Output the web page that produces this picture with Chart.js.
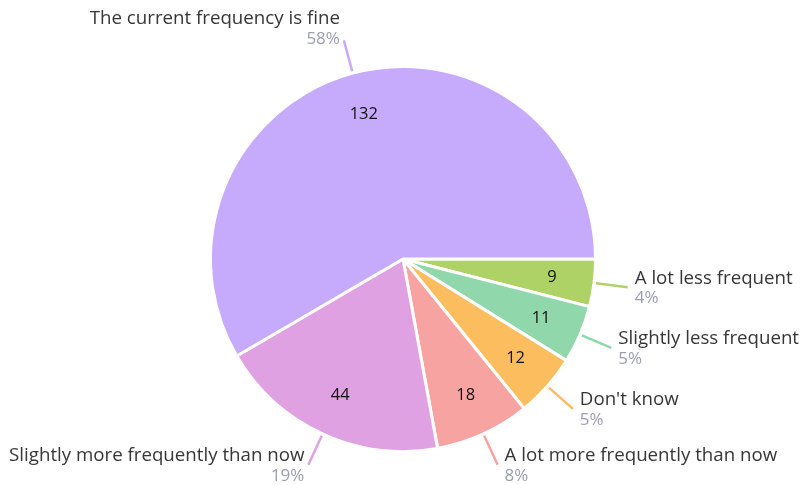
<!DOCTYPE html>
<html>
<head>
<meta charset="utf-8">
<script src="https://cdn.jsdelivr.net/npm/chart.js@4/dist/chart.umd.min.js"></script>
<style>
    html, body { margin: 0; padding: 0; background: #fff; }
    #pieChart { display: block; }
</style>
</head>
<body>
<canvas id="pieChart" width="800" height="485"></canvas>
<script>
// answers, clockwise from 3 o'clock
const answers = ['A lot less frequent', 'Slightly less frequent', "Don't know",
    'A lot more frequently than now', 'Slightly more frequently than now', 'The current frequency is fine'];
const counts = [9, 11, 12, 18, 44, 132];
const percents = ['4%', '5%', '5%', '8%', '19%', '58%'];
const colors = ['#aed266', '#90d7ab', '#fcbd5e', '#f7a3a2', '#dfa1e1', '#c6aafb'];

const fontFamily = '"Open Sans", Lato, sans-serif';

// подписи снаружи с линиями + числа внутри секторов
const labelsPlugin = {
    id: 'outerLabels',
    afterDatasetsDraw(chart) {
        const ctx = chart.ctx;
        const meta = chart.getDatasetMeta(0);
        meta.data.forEach((arc, i) => {
            const p = arc.getProps(['x', 'y', 'startAngle', 'endAngle', 'outerRadius']);
            const mid = (p.startAngle + p.endAngle) / 2;
            const cos = Math.cos(mid), sin = Math.sin(mid);
            const r = p.outerRadius;

            // число внутри
            ctx.save();
            ctx.fillStyle = '#111';
            ctx.font = '500 16.5px ' + fontFamily;
            ctx.textAlign = 'center';
            ctx.textBaseline = 'middle';
            ctx.fillText(String(counts[i]), p.x + cos * r * 0.78, p.y + sin * r * 0.78);

            // линия
            const x1 = p.x + cos * (r + 2), y1 = p.y + sin * (r + 2);
            const x2 = p.x + cos * (r + 34), y2 = p.y + sin * (r + 34);
            ctx.strokeStyle = colors[i];
            ctx.lineWidth = 2.5;
            ctx.beginPath();
            ctx.moveTo(x1, y1);
            ctx.lineTo(x2, y2);
            ctx.stroke();

            // текст
            const right = cos >= 0;
            let tx = right ? x2 + 7 : x2 - 4;
            let nameY = y2 - 9, pctY = y2 + 11;
            if (sin < -0.8) { // верхняя подпись
                nameY = y2 - 22;
                pctY = y2 - 1;
            }
            ctx.textAlign = right ? 'left' : 'right';
            ctx.font = '18.7px ' + fontFamily;
            ctx.fillStyle = '#363636';
            ctx.fillText(answers[i], tx, nameY);
            ctx.font = '17px ' + fontFamily;
            ctx.fillStyle = '#9c9cb4';
            ctx.fillText(percents[i], tx, pctY);
            ctx.restore();
        });
    }
};

const pieCtx = document.getElementById('pieChart').getContext('2d');
const objPieChart = new Chart(pieCtx, {
    type: 'pie',
    data: {
        labels: answers,
        datasets: [{
            data: counts,
            backgroundColor: colors,
            borderColor: '#ffffff',
            borderWidth: 3,
        }]
    },
    options: {
        responsive: false,
        animation: false,
        rotation: 90,
        layout: {
            padding: { top: 65, bottom: 32, left: 209, right: 203 }
        },
        plugins: {
            legend: { display: false },
            tooltip: { enabled: false }
        }
    },
    plugins: [labelsPlugin]
});
</script>
</body>
</html>
